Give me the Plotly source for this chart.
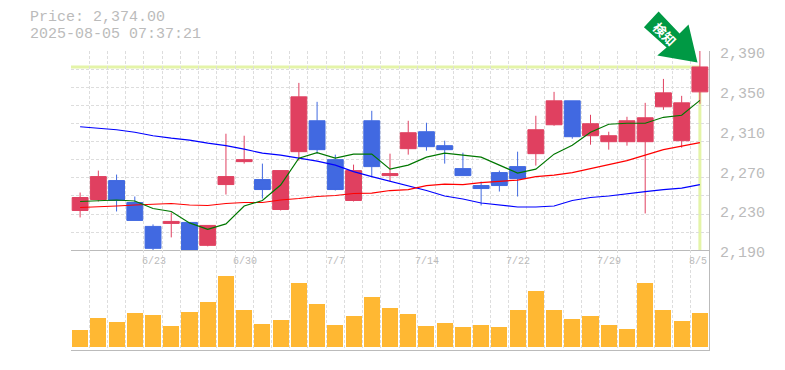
import plotly.graph_objects as go

dates = ["6/17","6/18","6/19","6/20","6/23","6/24","6/25","6/26","6/27","6/30",
         "7/1","7/2","7/3","7/4","7/7","7/8","7/9","7/10","7/11","7/14",
         "7/15","7/16","7/17","7/18","7/22","7/23","7/24","7/25","7/28","7/29",
         "7/30","7/31","8/1","8/4","8/5"]
opens = [2230,2241,2260,2238,2214,2217,2218,2195,2256,2279,2261,2231,2289,2320,2281,2240,2320,2265,
         2292,2309,2295,2272,2255,2268,2274,2287,2316,2340,2305,2299,2299,2299,2334,2300,2349]
highs = [2248,2270,2266,2244,2216,2228,2218,2215,2307,2305,2277,2270,2358,2339,2286,2276,2330,2287,
         2320,2318,2300,2288,2259,2270,2289,2325,2349,2340,2326,2309,2324,2338,2362,2345,2390]
lows = [2223,2239,2229,2220,2189,2203,2189,2194,2246,2277,2242,2230,2280,2287,2250,2239,2264,2259,
        2286,2290,2277,2265,2235,2249,2244,2275,2315,2302,2296,2291,2295,2227,2331,2293,2337]
closes = [2243,2264,2240,2220,2192,2219,2189,2215,2264,2281,2251,2270,2344,2291,2251,2270,2274,2267,
          2308,2294,2291,2265,2252,2255,2262,2311,2340,2304,2317,2305,2320,2323,2348,2338,2374]
ma_short = [2239,2239.5,2240.5,2239.5,2232,2229,2217.5,2211,2216.5,2234.5,2240,2255.5,2282.5,2288,2282.5,2286.5,2286.5,2271.5,
            2275.5,2283.5,2287.5,2285.5,2283.5,2275.5,2267.5,2271.5,2286.5,2295.5,2308.5,2316.5,2317.5,2317.5,2323.5,2325.5,2340.5]
ma_mid = [2233,2233.5,2234.5,2235.5,2236,2237,2235.5,2235,2237,2238,2238,2240.5,2242,2244,2245,2247,2247.5,2250,
          2251,2255,2256.5,2256,2258,2259,2260.5,2264,2265.5,2268,2272,2276,2280,2285.5,2291,2294.5,2298]
ma_long = [2314,2312.5,2311,2308.5,2305,2302.5,2300.5,2297.5,2295,2291.5,2287.5,2285.5,2282.5,2279.5,2275.5,2269,2264,2259.5,
           2255,2250,2244.5,2241.5,2237.5,2235.5,2233.5,2233.5,2234.5,2240,2243,2244.5,2247,2249,2251,2252.5,2256]
volumes = [17,29,25,34,32,21,35,45,71,37,23,27,64,43,22,31,50,39,33,21,24,20,22,20,37,56,37,28,31,22,18,64,37,26,34]
last_price = 2374
timestamp = "2025-08-05 07:37:21"
label_dates = ["6/23","6/30","7/7","7/14","7/22","7/29","8/5"]
price_ticks = [2390,2350,2310,2270,2230,2190]

W, H = 785, 370
L, R, T, B = 70.5, 709.5, 50.5, 350.5
MID = 250.5
x = list(range(len(dates)))
GRID = "#dddddd"
AXIS = "#bbbbbb"
TEXT = "#bbbbbb"
FONT = "Liberation Mono"
px = lambda v: (v - L) / (R - L)
py = lambda v: (B - v) / (B - T)

fig = go.Figure()
fig.add_trace(go.Candlestick(
    x=x, open=opens, high=highs, low=lows, close=closes, whiskerwidth=0,
    increasing=dict(line=dict(color="#e04060", width=1), fillcolor="#e04060"),
    decreasing=dict(line=dict(color="#4169e1", width=1), fillcolor="#4169e1"),
    xaxis="x", yaxis="y", showlegend=False))
for vals, col in ((ma_long, "#0000ff"), (ma_mid, "#ff0000"), (ma_short, "#007700")):
    fig.add_trace(go.Scatter(x=x, y=vals, mode="lines", line=dict(color=col, width=1.2),
                             xaxis="x", yaxis="y", showlegend=False))
fig.add_trace(go.Bar(x=x, y=volumes, width=0.88, marker=dict(color="#ffb833", line=dict(width=0)),
                     xaxis="x2", yaxis="y2", showlegend=False))

grid_x = dict(griddash="3px,2px", gridcolor=GRID, gridwidth=1, showgrid=True, range=[-0.5, len(x) - 0.5],
              tickmode="linear", tick0=-0.5, dtick=1, showticklabels=False, ticks="", zeroline=False,
              showline=True, linecolor=AXIS, linewidth=1.3)
lay = dict(
    width=W, height=H, paper_bgcolor="white", plot_bgcolor="white",
    margin=dict(l=L, r=W - R, t=T, b=H - B, pad=0), autosize=False, showlegend=False,
    boxmode="overlay", boxgap=0.13, boxgroupgap=0, bargap=0,
    xaxis=dict(domain=[0, 1], anchor="y", rangeslider=dict(visible=False), **grid_x),
    xaxis2=dict(domain=[0, 1], anchor="y2", **grid_x),
    yaxis=dict(domain=[py(MID), 1], anchor="x", side="right", range=[2190, 2390], tickmode="linear",
               tick0=2190, dtick=200 / 11, griddash="3px,2px", gridcolor=GRID, showgrid=True,
               showticklabels=False, ticks="", zeroline=False, showline=True, linecolor=AXIS, linewidth=1.3),
    yaxis2=dict(domain=[0, py(MID)], anchor="x2", side="right", range=[-2.5, 97.5], showgrid=False,
                showticklabels=False, ticks="", zeroline=False, showline=True, linecolor=AXIS, linewidth=1.3),
)
shapes = [
    dict(type="line", xref="x", yref="y", layer="below", x0=-0.5, x1=len(x) - 1, y0=last_price, y1=last_price,
         line=dict(color="#e4f4a8", width=3)),
    dict(type="line", xref="x", yref="y", layer="below", x0=len(x) - 1, x1=len(x) - 1, y0=2190, y1=last_price,
         line=dict(color="#e4f4a8", width=3)),
]
arrow = [(659, 11), (644.3, 26.7), (667, 47), (657.7, 55), (698, 62), (689, 24), (680, 33)]
path = "M " + " L ".join(f"{px(a):.4f} {py(b):.4f}" for a, b in arrow) + " Z"
shapes.append(dict(type="path", xref="paper", yref="paper", path=path, fillcolor="#009944", line=dict(width=0)))
lay["shapes"] = shapes

ann = []
for line, yc in ((f"Price: {last_price:,.2f}", 16.5), (timestamp, 34)):
    ann.append(dict(xref="paper", yref="paper", x=px(27), y=py(yc), xanchor="left", yanchor="middle", align="left",
                    showarrow=False, font=dict(family=FONT, size=15, color=TEXT), text=line))
for p in price_ticks:
    ann.append(dict(xref="paper", yref="y", x=px(719), y=p, yshift=-3.5, xanchor="left", yanchor="middle",
                    showarrow=False, text=f"{p:,}", font=dict(family=FONT, size=15, color=TEXT)))
for d in label_dates:
    ann.append(dict(xref="x2", yref="paper", x=dates.index(d), y=py(262), xanchor="center", yanchor="middle",
                    xshift=-2 if d == "8/5" else 0.5,
                    showarrow=False, text=d, font=dict(family=FONT, size=10, color=TEXT)))
ann.append(dict(xref="paper", yref="paper", x=px(665), y=py(33), xanchor="center", yanchor="middle",
                showarrow=False, text="<b>検知</b>", textangle=45,
                font=dict(family="Noto Sans CJK JP", size=13, color="white")))
lay["annotations"] = ann
fig.update_layout(**lay)
fig.write_html("out.html", config=dict(displayModeBar=False), post_script="document.body.style.margin='0';")
